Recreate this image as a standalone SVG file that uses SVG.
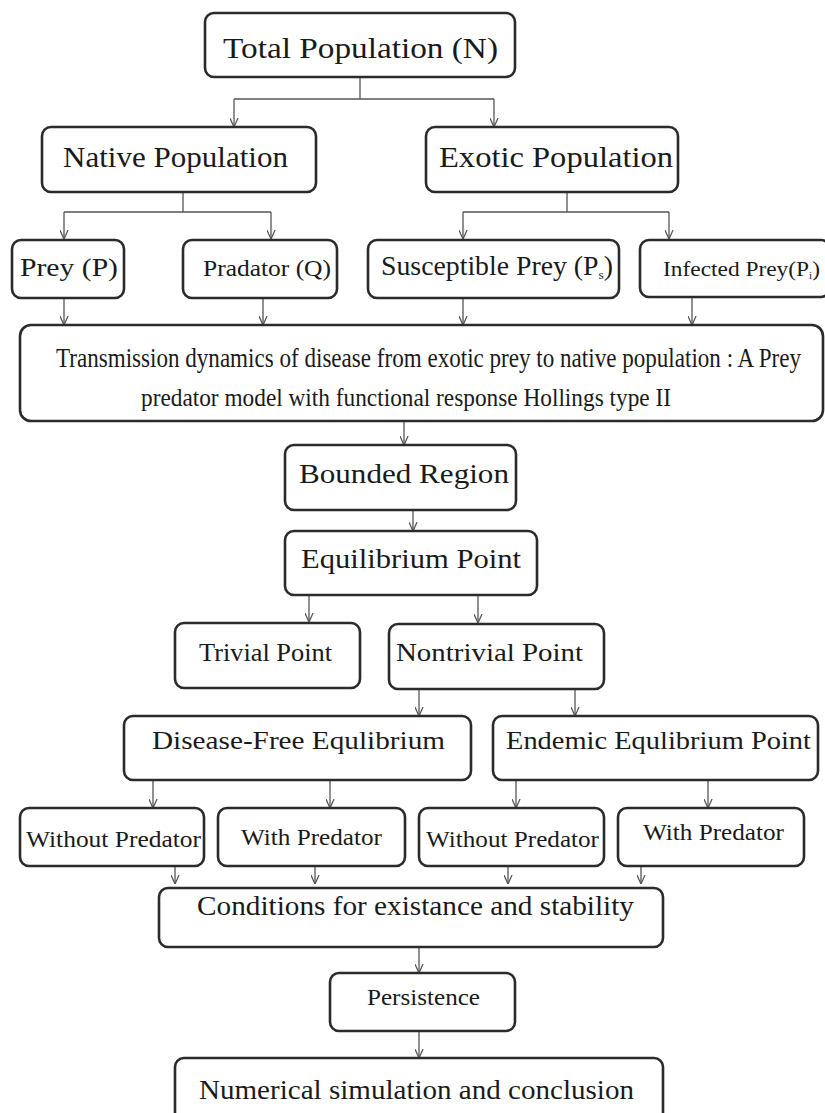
<svg xmlns="http://www.w3.org/2000/svg" width="825" height="1113" viewBox="0 0 825 1113">
<defs>
<style>
.box{fill:#fff;stroke:#2b2b2b;stroke-width:2.6}
.t{font-family:"Liberation Serif","Times New Roman",serif;fill:#1a1a1a}
.c{fill:none;stroke:#555;stroke-width:1.3}
.a{fill:none;stroke:#555;stroke-width:1.3;marker-end:url(#arr)}
</style>
<marker id="arr" viewBox="0 0 10 10" refX="10" refY="5" markerWidth="9" markerHeight="9" markerUnits="userSpaceOnUse" orient="auto">
<path d="M0,0.5 L10,5 L0,9.5" fill="none" stroke="#555" stroke-width="1.4"/>
</marker>
</defs>
<rect width="825" height="1113" fill="#fff"/>

<g id="connectors">
<path class="c" d="M360 77 V99 M234 99 H494"/>
<path class="a" d="M234 99 V127"/>
<path class="a" d="M494 99 V127"/>
<path class="c" d="M183 192 V212 M64 212 H271"/>
<path class="a" d="M64 212 V239"/>
<path class="a" d="M271 212 V239"/>
<path class="c" d="M567 192 V212 M463 212 H669"/>
<path class="a" d="M463 212 V239"/>
<path class="a" d="M669 212 V239"/>
<path class="a" d="M64 298 V325"/>
<path class="a" d="M263 298 V325"/>
<path class="a" d="M463 298 V325"/>
<path class="a" d="M692 298 V325"/>
<path class="a" d="M404 421 V445"/>
<path class="a" d="M413 503 V531"/>
<path class="a" d="M309 592 V622"/>
<path class="a" d="M478 595 V623"/>
<path class="a" d="M419 689 V716"/>
<path class="a" d="M575 689 V716"/>
<path class="a" d="M153 780 V808"/>
<path class="a" d="M330 780 V808"/>
<path class="a" d="M516 780 V808"/>
<path class="a" d="M708 780 V808"/>
<path class="a" d="M175 854 V884"/>
<path class="a" d="M315 855 V884"/>
<path class="a" d="M508 855 V884"/>
<path class="a" d="M641 855 V884"/>
<path class="a" d="M419 947 V973"/>
<path class="a" d="M419 1031 V1058"/>
</g>

<g id="total"><rect class="box" x="205" y="13" width="310" height="64" rx="9"/>
<text class="t" x="223" y="58" font-size="30" textLength="275" lengthAdjust="spacingAndGlyphs">Total Population (N)</text></g>

<g id="native"><rect class="box" x="42" y="127" width="274" height="65" rx="9"/>
<text class="t" x="63" y="167" font-size="30" textLength="225" lengthAdjust="spacingAndGlyphs">Native Population</text></g>

<g id="exotic"><rect class="box" x="426" y="127" width="252" height="65" rx="9"/>
<text class="t" x="439" y="167" font-size="30" textLength="234" lengthAdjust="spacingAndGlyphs">Exotic Population</text></g>

<g id="prey"><rect class="box" x="12" y="240" width="112" height="58" rx="9"/>
<text class="t" x="20" y="276" font-size="25" textLength="98" lengthAdjust="spacingAndGlyphs">Prey  (P)</text></g>

<g id="predator"><rect class="box" x="183" y="240" width="154" height="58" rx="9"/>
<text class="t" x="203" y="276" font-size="23" textLength="128" lengthAdjust="spacingAndGlyphs">Pradator (Q)</text></g>

<g id="susceptible"><rect class="box" x="368" y="240" width="251" height="58" rx="9"/>
<text class="t" x="381" y="275" font-size="27" textLength="232" lengthAdjust="spacingAndGlyphs">Susceptible  Prey (P<tspan font-size="13" dy="4">s</tspan><tspan dy="-4">)</tspan></text></g>

<g id="infected"><rect class="box" x="640" y="240" width="190" height="57" rx="9"/>
<text class="t" x="663" y="276" font-size="21" textLength="157" lengthAdjust="spacingAndGlyphs">Infected  Prey(P<tspan font-size="10" dy="3">i</tspan><tspan dy="-3">)</tspan></text></g>

<g id="model"><rect class="box" x="20" y="325" width="803" height="96" rx="11"/>
<text class="t" transform="translate(56 367) scale(1 1.23)" x="0" y="0" font-size="22" textLength="745" lengthAdjust="spacingAndGlyphs">Transmission dynamics of disease from exotic prey to native population :  A Prey</text>
<text class="t" transform="translate(141 406) scale(1 1.18)" x="0" y="0" font-size="22" textLength="530" lengthAdjust="spacingAndGlyphs">predator model with functional response Hollings type II</text></g>

<g id="bounded"><rect class="box" x="285" y="445" width="231" height="65" rx="9"/>
<text class="t" x="299" y="483" font-size="27" textLength="210" lengthAdjust="spacingAndGlyphs">Bounded  Region</text></g>

<g id="equilibrium"><rect class="box" x="285" y="531" width="252" height="64" rx="9"/>
<text class="t" x="301" y="568" font-size="27" textLength="220" lengthAdjust="spacingAndGlyphs">Equilibrium Point</text></g>

<g id="trivial"><rect class="box" x="175" y="623" width="185" height="65" rx="9"/>
<text class="t" x="199" y="661" font-size="26" textLength="133" lengthAdjust="spacingAndGlyphs">Trivial Point</text></g>

<g id="nontrivial"><rect class="box" x="389" y="624" width="215" height="65" rx="9"/>
<text class="t" x="396" y="661" font-size="26" textLength="187" lengthAdjust="spacingAndGlyphs">Nontrivial Point</text></g>

<g id="diseasefree"><rect class="box" x="124" y="716" width="347" height="64" rx="9"/>
<text class="t" x="152" y="749" font-size="26" textLength="293" lengthAdjust="spacingAndGlyphs">Disease-Free Equlibrium</text></g>

<g id="endemic"><rect class="box" x="493" y="716" width="325" height="64" rx="9"/>
<text class="t" x="506" y="749" font-size="26" textLength="305" lengthAdjust="spacingAndGlyphs">Endemic Equlibrium Point</text></g>

<g id="without1"><rect class="box" x="20" y="808" width="184" height="58" rx="9"/>
<text class="t" x="26" y="847" font-size="23" textLength="175" lengthAdjust="spacingAndGlyphs">Without Predator</text></g>

<g id="with1"><rect class="box" x="218" y="808" width="187" height="58" rx="9"/>
<text class="t" x="241" y="845" font-size="23" textLength="141" lengthAdjust="spacingAndGlyphs">With Predator</text></g>

<g id="without2"><rect class="box" x="419" y="808" width="185" height="58" rx="9"/>
<text class="t" x="426" y="847" font-size="23" textLength="173" lengthAdjust="spacingAndGlyphs">Without Predator</text></g>

<g id="with2"><rect class="box" x="618" y="808" width="186" height="58" rx="9"/>
<text class="t" x="643" y="840" font-size="23" textLength="141" lengthAdjust="spacingAndGlyphs">With Predator</text></g>

<g id="conditions"><rect class="box" x="159" y="888" width="504" height="59" rx="9"/>
<text class="t" x="197" y="915" font-size="27" textLength="437" lengthAdjust="spacingAndGlyphs">Conditions for existance and  stability</text></g>

<g id="persistence"><rect class="box" x="330" y="973" width="185" height="58" rx="9"/>
<text class="t" x="367" y="1005" font-size="24" textLength="113" lengthAdjust="spacingAndGlyphs">Persistence</text></g>

<g id="numerical"><rect class="box" x="175" y="1058" width="488" height="70" rx="9"/>
<text class="t" x="199" y="1099" font-size="27" textLength="435" lengthAdjust="spacingAndGlyphs">Numerical simulation and conclusion</text></g>
</svg>
